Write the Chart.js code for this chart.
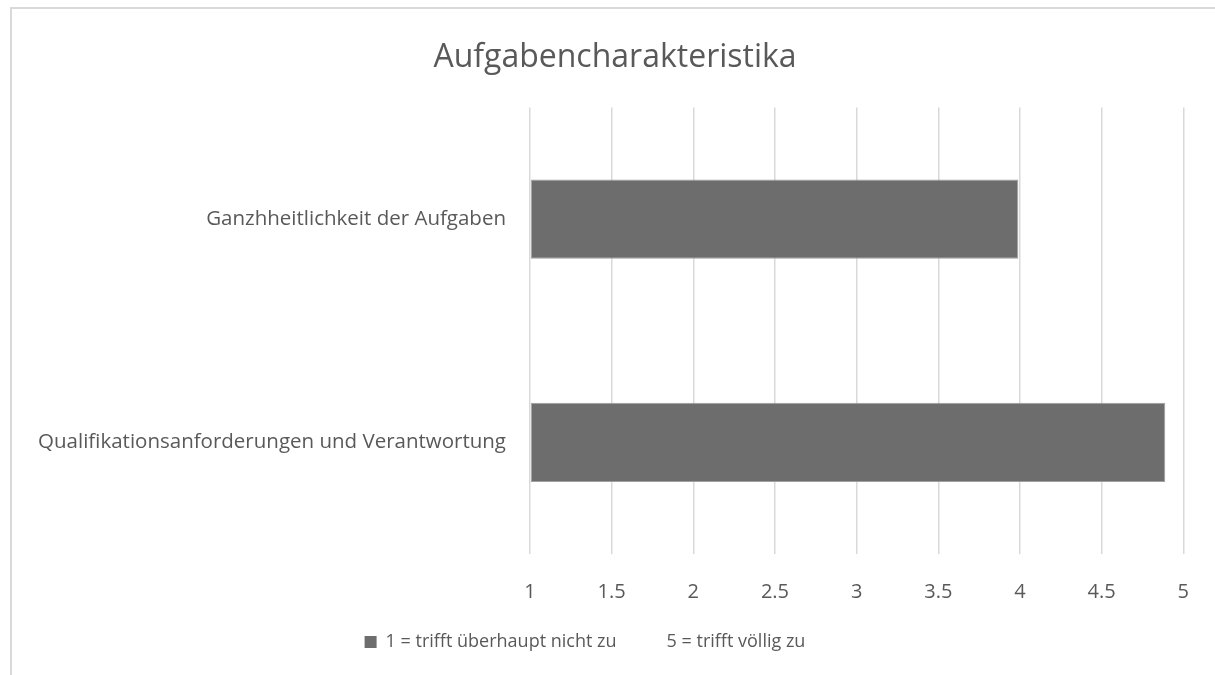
<!DOCTYPE html>
<html>
<head>
<meta charset="utf-8">
<script src="https://cdn.jsdelivr.net/npm/chart.js@4.4.1/dist/chart.umd.min.js"></script>
<style>
    html, body { margin: 0; padding: 0; background: #fff; }
    #wrap { position: relative; width: 1215px; height: 675px; overflow: hidden; }
    #frame {
        position: absolute; left: 10px; top: 7px; width: 1220px; height: 700px;
        border-top: 2px solid #d9d9d9; border-left: 2px solid #d9d9d9;
        box-sizing: border-box;
    }
    canvas { position: absolute; left: 0; top: 0; }
</style>
</head>
<body>
<div id="wrap">
    <div id="frame"></div>
    <canvas id="graf" width="1215" height="675"></canvas>
</div>
<script>
const kategorie = ['Ganzhheitlichkeit der Aufgaben', 'Qualifikationsanforderungen und Verantwortung'];
const hodnoty = [3.99, 4.89];
const legenda = ['1 = trifft überhaupt nicht zu', '5 = trifft völlig zu'];
const titulek = 'Aufgabencharakteristika';

const FONT = '"Open Sans"';
const SEDA_TEXT = '#595959';
const BARVA = '#6d6d6d';

Chart.defaults.font.family = FONT;
Chart.defaults.color = SEDA_TEXT;

// posun titulku a legendy, aby seděly s předlohou
const posunBloku = {
    id: 'posunBloku',
    afterLayout(chart) {
        if (chart.titleBlock) chart.titleBlock.left += 46;
        if (chart.legend) {
            chart.legend.left -= 7;
            chart.legend.right -= 7;
        }
    }
};

new Chart(document.getElementById('graf'), {
    type: 'bar',
    data: {
        labels: kategorie,
        datasets: [{
            label: legenda[0],
            data: hodnoty,
            base: 1,
            backgroundColor: BARVA,
            borderColor: '#a0a0a0',
            borderWidth: 1,
            borderSkipped: false,
            categoryPercentage: 1,
            barPercentage: 0.355
        }]
    },
    options: {
        indexAxis: 'y',
        responsive: false,
        animation: false,
        layout: { padding: { left: 0, right: 31, top: 0, bottom: 14 } },
        scales: {
            x: {
                min: 1,
                max: 5,
                border: { display: false },
                grid: { color: '#d9d9d9', lineWidth: 1.5, drawTicks: false },
                ticks: {
                    stepSize: 0.5, padding: 26, font: { size: 20 }, color: SEDA_TEXT,
                    callback: v => String(v)
                },
                afterFit: s => { s.height = 50; }
            },
            y: {
                border: { display: false },
                grid: { display: false, drawTicks: false },
                ticks: { padding: 24, font: { size: 20.5 }, color: SEDA_TEXT },
                afterFit: s => { s.width = 530; }
            }
        },
        plugins: {
            title: {
                display: true,
                text: titulek,
                color: SEDA_TEXT,
                font: { size: 32, weight: 'normal' },
                padding: { top: 39, bottom: 30 }
            },
            legend: {
                position: 'bottom',
                labels: {
                    boxWidth: 12,
                    boxHeight: 12,
                    padding: 29,
                    color: SEDA_TEXT,
                    font: { size: 18 },
                    generateLabels: () => legenda.map((t, i) => ({
                        text: t,
                        fillStyle: i === 0 ? BARVA : 'rgba(0,0,0,0)',
                        strokeStyle: 'rgba(0,0,0,0)',
                        fontColor: SEDA_TEXT,
                        lineWidth: 0,
                        datasetIndex: 0
                    }))
                }
            },
            tooltip: { enabled: false }
        }
    },
    plugins: [posunBloku]
});
</script>
</body>
</html>
